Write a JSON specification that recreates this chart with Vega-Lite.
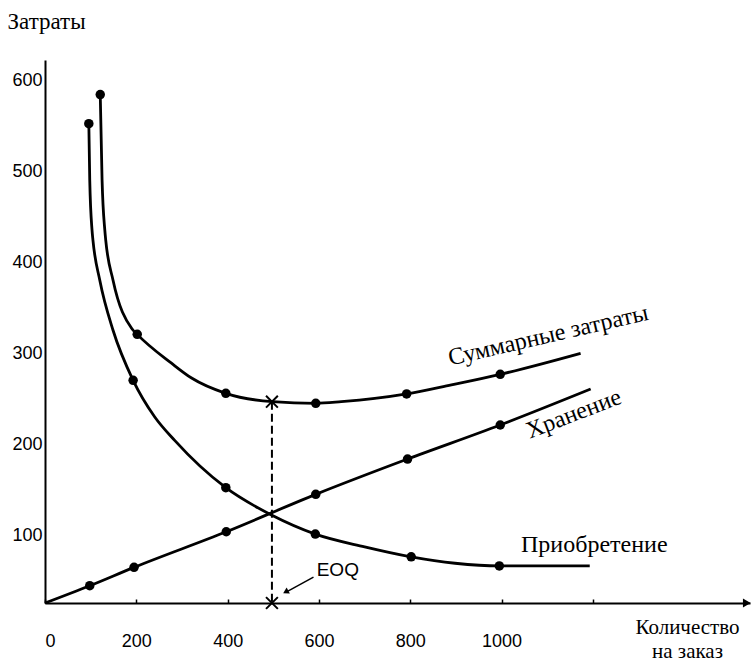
{
  "$schema": "https://vega.github.io/schema/vega-lite/v6.json",
  "width": 705,
  "height": 543,
  "autosize": {"type": "none"},
  "padding": {"left": 45, "top": 60, "right": 5, "bottom": 59},
  "background": "white",
  "config": {
    "view": {"stroke": null},
    "axis": {
      "grid": false,
      "domainColor": "black",
      "domainWidth": 2,
      "tickColor": "black",
      "labelColor": "black",
      "labelFont": "Liberation Sans",
      "labelFontSize": 18,
      "titleColor": "black",
      "titleFont": "Liberation Serif",
      "titleFontSize": 23,
      "titleFontWeight": "normal"
    }
  },
  "datasets": {
    "curves": [
      {"s": "acq", "q": 96, "v": 552, "dot": true},
      {"s": "acq", "q": 98, "v": 490, "dot": false},
      {"s": "acq", "q": 103, "v": 435, "dot": false},
      {"s": "acq", "q": 105, "v": 424, "dot": false},
      {"s": "acq", "q": 120, "v": 380, "dot": false},
      {"s": "acq", "q": 149, "v": 325, "dot": false},
      {"s": "acq", "q": 193, "v": 270, "dot": true},
      {"s": "acq", "q": 240, "v": 230, "dot": false},
      {"s": "acq", "q": 284, "v": 204, "dot": false},
      {"s": "acq", "q": 396, "v": 152, "dot": true},
      {"s": "acq", "q": 496, "v": 122, "dot": false},
      {"s": "acq", "q": 592, "v": 101, "dot": true},
      {"s": "acq", "q": 700, "v": 87, "dot": false},
      {"s": "acq", "q": 802, "v": 76, "dot": true},
      {"s": "acq", "q": 898, "v": 69, "dot": false},
      {"s": "acq", "q": 995, "v": 66, "dot": true},
      {"s": "acq", "q": 1193, "v": 66, "dot": false},
      {"s": "tot", "q": 121, "v": 584, "dot": true},
      {"s": "tot", "q": 125, "v": 490, "dot": false},
      {"s": "tot", "q": 131, "v": 435, "dot": false},
      {"s": "tot", "q": 133, "v": 424, "dot": false},
      {"s": "tot", "q": 149, "v": 380, "dot": false},
      {"s": "tot", "q": 190, "v": 327, "dot": false},
      {"s": "tot", "q": 202, "v": 320.5, "dot": true},
      {"s": "tot", "q": 277, "v": 288.8, "dot": false},
      {"s": "tot", "q": 321, "v": 272.5, "dot": false},
      {"s": "tot", "q": 396, "v": 255.7, "dot": true},
      {"s": "tot", "q": 498, "v": 246.5, "dot": false},
      {"s": "tot", "q": 593, "v": 244.7, "dot": true},
      {"s": "tot", "q": 649, "v": 246.5, "dot": false},
      {"s": "tot", "q": 792, "v": 255, "dot": true},
      {"s": "tot", "q": 890, "v": 265, "dot": false},
      {"s": "tot", "q": 997, "v": 276.6, "dot": true},
      {"s": "tot", "q": 1173, "v": 299.7, "dot": false},
      {"s": "hold", "q": 0, "v": 25.3, "dot": false},
      {"s": "hold", "q": 98, "v": 44.3, "dot": true},
      {"s": "hold", "q": 195, "v": 64.5, "dot": true},
      {"s": "hold", "q": 397, "v": 103.6, "dot": true},
      {"s": "hold", "q": 593, "v": 144.7, "dot": true},
      {"s": "hold", "q": 794, "v": 183.5, "dot": true},
      {"s": "hold", "q": 997, "v": 220.9, "dot": true},
      {"s": "hold", "q": 1195, "v": 260.4, "dot": false}
    ],
    "eoq": [
      {"q": 497, "v": 246.5},
      {"q": 497, "v": 25.3}
    ]
  },
  "layer": [
    {
      "data": {"name": "curves"},
      "mark": {"type": "line", "interpolate": "monotone", "color": "black", "strokeWidth": 2.8},
      "encoding": {
        "x": {
          "field": "q", "type": "quantitative",
          "scale": {"domain": [0, 1544], "nice": false, "zero": false},
          "axis": {
            "values": [0, 200, 400, 600, 800, 1000, 1200],
            "format": "d",
            "labelExpr": "datum.value == 1200 ? '' : datum.label",
            "tickSize": -4,
            "tickWidth": 1.5,
            "labelPadding": 33,
            "title": ["Количество", "на заказ"],
            "titleFontSize": 21,
            "titleAlign": "center",
            "titleBaseline": "alphabetic",
            "titleX": 642,
            "titleY": 30,
            "titleLineHeight": 24,
            "titleAngle": 0
          }
        },
        "y": {
          "field": "v", "type": "quantitative",
          "scale": {"domain": [25.3, 622], "nice": false, "zero": false},
          "axis": {
            "values": [100, 200, 300, 400, 500, 600],
            "ticks": false,
            "labelPadding": 3,
            "title": "Затраты",
            "titleAngle": 0,
            "titleAlign": "left",
            "titleBaseline": "alphabetic",
            "titleX": -38,
            "titleY": -31.5
          }
        },
        "detail": {"field": "s"},
        "order": {"field": "q", "type": "quantitative"}
      }
    },
    {
      "data": {"name": "curves"},
      "transform": [{"filter": "datum.dot"}],
      "mark": {"type": "point", "shape": "circle", "filled": true, "color": "black", "size": 90, "opacity": 1},
      "encoding": {
        "x": {"field": "q", "type": "quantitative"},
        "y": {"field": "v", "type": "quantitative"}
      }
    },
    {
      "data": {"values": [{"q": 497, "v": 246.5, "v2": 25.3}]},
      "mark": {"type": "rule", "color": "black", "strokeWidth": 2, "strokeDash": [8, 4]},
      "encoding": {
        "x": {"field": "q", "type": "quantitative"},
        "y": {"field": "v", "type": "quantitative"},
        "y2": {"field": "v2"}
      }
    },
    {
      "data": {"name": "eoq"},
      "mark": {"type": "point", "shape": "M-1,-1L1,1M-1,1L1,-1", "filled": false, "color": "black", "strokeWidth": 2, "size": 140, "opacity": 1},
      "encoding": {
        "x": {"field": "q", "type": "quantitative"},
        "y": {"field": "v", "type": "quantitative"}
      }
    },
    {
      "data": {"values": [{"q": 588, "v": 53.8, "q2": 530, "v2": 37.8}]},
      "mark": {"type": "rule", "color": "black", "strokeWidth": 1.5},
      "encoding": {
        "x": {"field": "q", "type": "quantitative"},
        "y": {"field": "v", "type": "quantitative"},
        "x2": {"field": "q2"},
        "y2": {"field": "v2"}
      }
    },
    {
      "data": {"values": [{"q": 529, "v": 38}]},
      "mark": {"type": "point", "shape": "triangle", "filled": true, "color": "black", "size": 45, "angle": 241, "opacity": 1},
      "encoding": {
        "x": {"field": "q", "type": "quantitative"},
        "y": {"field": "v", "type": "quantitative"}
      }
    },
    {
      "data": {"values": [{"q": 1537, "v": 25.3}]},
      "mark": {"type": "point", "shape": "triangle-right", "filled": true, "color": "black", "size": 80, "opacity": 1},
      "encoding": {
        "x": {"field": "q", "type": "quantitative"},
        "y": {"field": "v", "type": "quantitative"}
      }
    },
    {
      "data": {"values": [{"q": 595, "v": 61.5, "label": "EOQ"}]},
      "mark": {"type": "text", "font": "Liberation Sans", "fontSize": 19, "align": "left", "baseline": "middle", "color": "black"},
      "encoding": {
        "x": {"field": "q", "type": "quantitative"},
        "y": {"field": "v", "type": "quantitative"},
        "text": {"field": "label"}
      }
    },
    {
      "data": {"values": [{"q": 1203, "v": 81.6, "label": "Приобретение"}]},
      "mark": {"type": "text", "font": "Liberation Serif", "fontSize": 24, "align": "center", "baseline": "alphabetic", "color": "black"},
      "encoding": {
        "x": {"field": "q", "type": "quantitative"},
        "y": {"field": "v", "type": "quantitative"},
        "text": {"field": "label"}
      }
    },
    {
      "data": {"values": [{"q": 1102, "v": 319, "label": "Суммарные затраты"}]},
      "mark": {"type": "text", "font": "Liberation Serif", "fontSize": 24, "align": "center", "baseline": "middle", "angle": -13, "color": "black"},
      "encoding": {
        "x": {"field": "q", "type": "quantitative"},
        "y": {"field": "v", "type": "quantitative"},
        "text": {"field": "label"}
      }
    },
    {
      "data": {"values": [{"q": 1158, "v": 232.7, "label": "Хранение"}]},
      "mark": {"type": "text", "font": "Liberation Serif", "fontSize": 24, "align": "center", "baseline": "middle", "angle": -21, "color": "black"},
      "encoding": {
        "x": {"field": "q", "type": "quantitative"},
        "y": {"field": "v", "type": "quantitative"},
        "text": {"field": "label"}
      }
    }
  ]
}
